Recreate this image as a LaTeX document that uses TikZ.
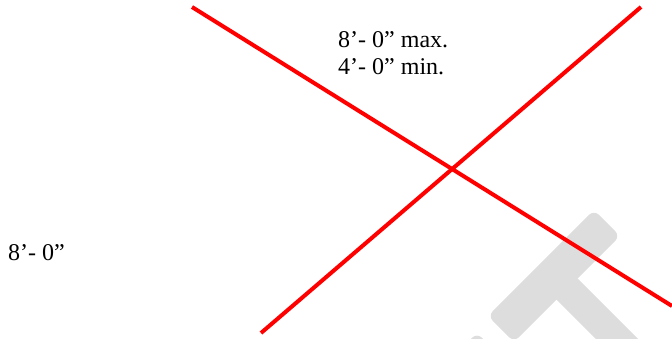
\documentclass[tikz,border=0pt]{standalone}
\usepackage{fontspec}
\setmainfont{Liberation Serif}
\usetikzlibrary{positioning}

\begin{document}
\begin{tikzpicture}[x=1pt,y=-1pt,line cap=butt,
  cut/.style={red,line width=4pt},
  wmark/.style={fill=gray!27,rounded corners=7pt},
  dim/.style={anchor=base west,inner sep=0pt,font=\fontsize{24}{27}\selectfont}]
\useasboundingbox (0,0) rectangle (672,339);
\begin{scope}
\clip (0,0) rectangle (672,339);
% faint mark in the corner
\fill[wmark,rotate around={45:(554,276)}] (479,257.5) rectangle (629,294.5);
\fill[wmark,rotate around={-45:(554,276)}] (540,261) rectangle (720,291);
\fill[wmark,rotate around={45:(477,354)}] (462,339) rectangle (492,420);
% crossing lines
\coordinate (a1) at (192,7);
\coordinate (a2) at (672,306);
\coordinate (b1) at (261,333);
\coordinate (b2) at (641,7);
\draw[cut] (a1) -- (a2);
\draw[cut] (b1) -- (b2);
\end{scope}
\node[dim] (maxlen) at (338,48) {8’- 0” max.};
\node[dim] (minlen) at (338,75) {4’- 0” min.};
\node[dim] (span) at (8,260) {8’- 0”};
\end{tikzpicture}
\end{document}
